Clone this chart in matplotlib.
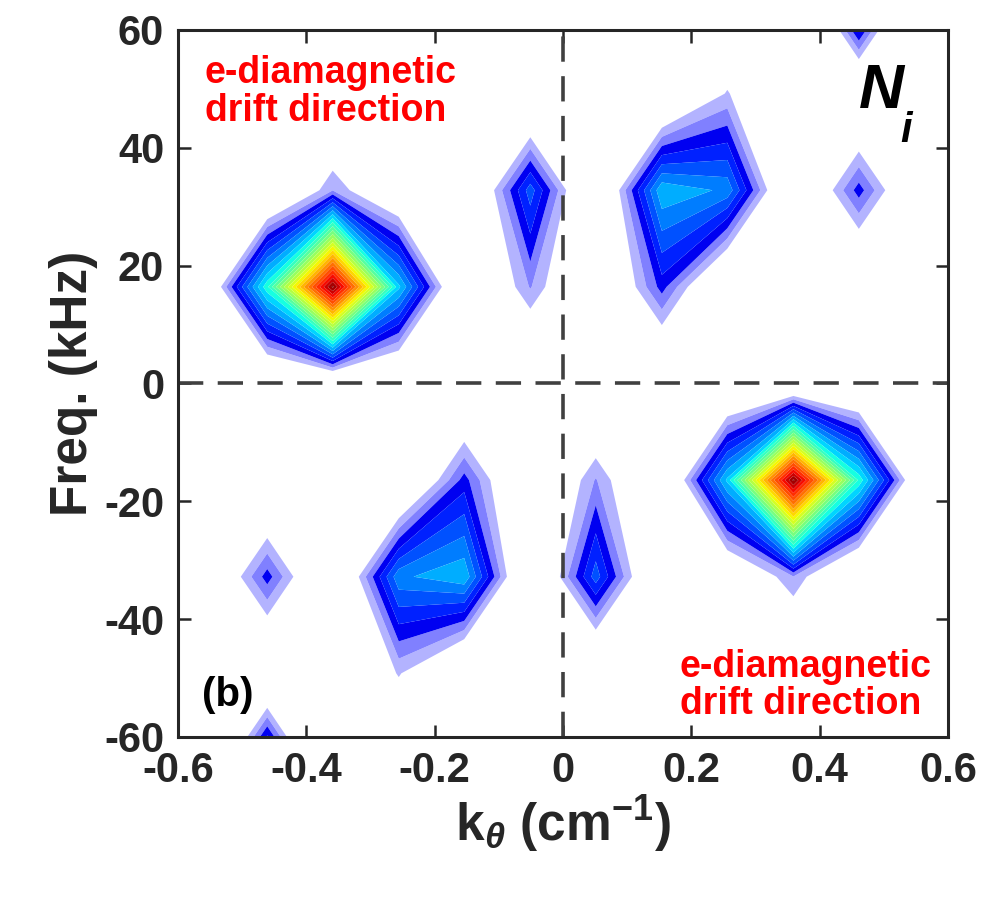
import numpy as np
import matplotlib
matplotlib.use("Agg")
import matplotlib.pyplot as plt

plt.rcParams['font.family'] = ['Liberation Sans', 'DejaVu Sans']
plt.rcParams['font.weight'] = 'bold'
plt.rcParams['axes.labelweight'] = 'bold'
plt.rcParams['mathtext.fontset'] = 'custom'
plt.rcParams['mathtext.rm'] = 'Liberation Sans:bold'
plt.rcParams['mathtext.it'] = 'Liberation Sans:italic'
plt.rcParams['mathtext.bf'] = 'Liberation Sans:bold'
plt.rcParams['mathtext.default'] = 'bf'

# wavenumber grid (cm^-1) and frequency grid (kHz)
k = [-0.666, -0.564, -0.461, -0.359, -0.256, -0.154, -0.051,
     0.051, 0.154, 0.256, 0.359, 0.461, 0.564, 0.666]
freq = [-65.6, -49.2, -32.8, -16.4, 0.0, 16.4, 32.8, 49.2, 65.6]

# spectral power, one row per frequency (bottom to top)
S = [
    [0, 0, 10.5, 0, 0, 0, 0, 0, 0, 0, 0, 0, 0, 0],         # -65.6
    [0, 0, 0, 0, 3.9, 0, 0, 0, 0, 0, 0, 0, 0, 0],          # -49.2
    [0, 0, 6.25, 0, 9.5, 10.6, 0, 8.3, 0, 1.0, 4.7, 0, 0, 0],    # -32.8
    [0, 0, 0, 0, 0, 6.2, 0, 4.85, 0, 11.0, 29.0, 12.5, 0, 0],    # -16.4
    [0, 0, 0, 0, 0, 0, 0, 0, 0, 0, 0, 0, 0, 0],            # 0
    [0, 0, 12.5, 29.0, 11.0, 0, 4.85, 0, 6.2, 0, 0, 0, 0, 0],    # 16.4
    [0, 0, 0, 4.7, 1.0, 0, 8.3, 0, 10.6, 9.5, 0, 6.25, 0, 0],    # 32.8
    [0, 0, 0, 0, 0, 0, 0, 0, 0, 3.9, 0, 0, 0, 0],          # 49.2
    [0, 0, 0, 0, 0, 0, 0, 0, 0, 0, 0, 10.5, 0, 0],         # 65.6
]

levels = np.arange(3.75, 30.0, 1.0)
t = np.linspace(0, 1, len(levels) - 3) ** 0.88
band_colors = ['#b3b3ff', '#8080ff'] + [plt.cm.jet(0.1 + 0.9 * v) for v in t]

fig = plt.figure(figsize=(10.03, 8.97), dpi=100)
ax = fig.add_axes([0.1775, 0.1784, 0.7677, 0.7882])

K, F = np.meshgrid(k, freq)
ax.contourf(K, F, np.array(S), levels=levels, colors=band_colors, antialiased=True)

ax.axhline(0, color='0.25', lw=2.6, ls=(0, (7, 4)))
ax.axvline(0, color='0.25', lw=2.6, ls=(0, (7, 4)))

ax.set_xlim(-0.6, 0.6)
ax.set_ylim(-60, 60)
ax.set_xticks([-0.6, -0.4, -0.2, 0, 0.2, 0.4, 0.6])
ax.set_xticklabels(['-0.6', '-0.4', '-0.2', '0', '0.2', '0.4', '0.6'])
ax.set_yticks([-60, -40, -20, 0, 20, 40, 60])
ax.set_yticklabels(['-60', '-40', '-20', '0', '20', '40', '60'])
ax.tick_params(direction='in', top=True, right=True, length=9, width=1.8,
               labelsize=30, colors='0.15', pad=10)
for sp in ax.spines.values():
    sp.set_linewidth(2.2)
    sp.set_color('0.15')

ax.set_xlabel(r'k$_{\mathit{\theta}}$ (cm$^{-1}$)', fontsize=37, color='0.15', labelpad=2)
ax.set_ylabel('Freq. (kHz)', fontsize=37, color='0.15', labelpad=4)

ax.text(-0.558, 55.7, 'e-diamagnetic\ndrift direction', color='red', fontsize=27,
        ha='left', va='top', linespacing=1.05)
ax.text(0.182, -45.0, 'e-diamagnetic\ndrift direction', color='red', fontsize=27,
        ha='left', va='top', linespacing=1.05)
ax.text(0.461, 46.7, 'N', fontsize=45, style='italic', fontweight='bold', ha='left', va='baseline')
ax.text(0.525, 41.0, 'i', fontsize=30, style='italic', fontweight='bold', ha='left', va='baseline')
ax.text(-0.563, -54.7, '(b)', fontsize=29, fontweight='bold', ha='left', va='baseline')

fig.savefig('out.png', dpi=100)
